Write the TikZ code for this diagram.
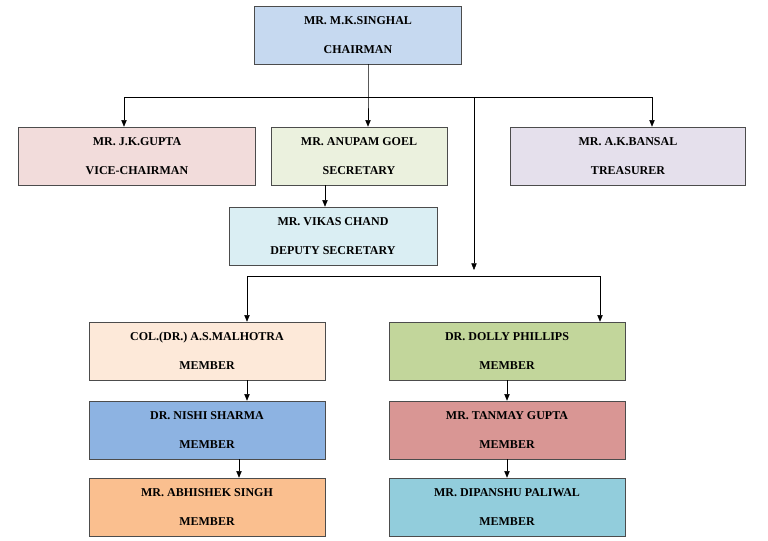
\documentclass[tikz,border=0pt]{standalone}
\usepackage{fontspec}
\setmainfont{Liberation Serif}
\usetikzlibrary{arrows.meta, positioning, calc}
\definecolor{c_chair}{RGB}{198, 217, 240}
\definecolor{c_vice}{RGB}{242, 220, 219}
\definecolor{c_secr}{RGB}{235, 241, 222}
\definecolor{c_treas}{RGB}{229, 224, 236}
\definecolor{c_dep}{RGB}{218, 238, 243}
\definecolor{c_malh}{RGB}{253, 233, 217}
\definecolor{c_dolly}{RGB}{194, 214, 155}
\definecolor{c_nishi}{RGB}{141, 179, 226}
\definecolor{c_tanm}{RGB}{217, 150, 148}
\definecolor{c_abhi}{RGB}{250, 191, 143}
\definecolor{c_dipa}{RGB}{146, 205, 220}
\begin{document}
\begin{tikzpicture}[x=0.75pt, y=-0.75pt,
        box/.style={rectangle, draw=black!70, minimum height=43.5pt,
                    font=\fontsize{9}{21.5}\selectfont\bfseries, align=center,
                    inner sep=0pt},
        arr/.style={-{Triangle[length=5pt, width=4pt]}, thin},
        ln/.style={thin},
      ]
        \useasboundingbox (0,0) rectangle (768,540);

        \node[box, fill=c_chair, minimum width=155pt] (chair)
          at (358, 35) {MR. M.K.SINGHAL\\CHAIRMAN};
        \node[box, fill=c_vice, minimum width=178pt] (vice)
          at (137, 156) {MR. J.K.GUPTA\\VICE-CHAIRMAN};
        \node[box, fill=c_secr, minimum width=132pt] (secr)
          at (359, 156) {MR. ANUPAM GOEL\\SECRETARY};
        \node[box, fill=c_treas, minimum width=176pt] (treas)
          at (628, 156) {MR. A.K.BANSAL\\TREASURER};
        \node[box, fill=c_dep, minimum width=156pt] (dep)
          at (333, 236) {MR. VIKAS CHAND\\DEPUTY SECRETARY};

        \node[box, fill=c_malh, minimum width=177pt] (malh)
          at (207, 351) {COL.(DR.) A.S.MALHOTRA\\MEMBER};
        \node[box, fill=c_nishi, minimum width=177pt] (nishi)
          at (207, 430) {DR. NISHI SHARMA\\MEMBER};
        \node[box, fill=c_abhi, minimum width=177pt] (abhi)
          at (207, 507) {MR. ABHISHEK SINGH\\MEMBER};
        \node[box, fill=c_dolly, minimum width=177pt] (dolly)
          at (507, 351) {DR. DOLLY PHILLIPS\\MEMBER};
        \node[box, fill=c_tanm, minimum width=177pt] (tanm)
          at (507, 430) {MR. TANMAY GUPTA\\MEMBER};
        \node[box, fill=c_dipa, minimum width=177pt] (dipa)
          at (507, 507) {MR. DIPANSHU PALIWAL\\MEMBER};

        % top level bus
        \coordinate (bus) at (368, 97);
        \coordinate (busl) at (124, 97);
        \coordinate (busr) at (652, 97);
        \coordinate (busm) at (474, 97);
        \coordinate (low) at (474, 276);
        \coordinate (lowl) at (247, 276);
        \coordinate (lowr) at (600, 276);

        \draw[arr] (chair.south -| bus) -- (bus) -- (secr.north -| bus);
        \draw[ln] (busl) -- (busr);
        \draw[arr] (busl) -- (vice.north -| busl);
        \draw[arr] (busr) -- (treas.north -| busr);
        \draw[arr] (busm) -- ($(low)+(0,-6)$);
        \draw[ln] (lowl) -- (lowr);
        \draw[arr] (lowl) -- (malh.north -| lowl);
        \draw[arr] (lowr) -- (dolly.north -| lowr);

        \draw[arr] (secr.south -| dep.north) ++(-8,0) coordinate (s1) -- (dep.north -| s1);
        \draw[arr] (malh.south -| lowl) -- (nishi.north -| lowl);
        \draw[arr] ($(nishi.south)+(32,0)$) -- ($(abhi.north)+(32,0)$);
        \draw[arr] (dolly) ++(0,29) -- (tanm.north);
        \draw[arr] (tanm.south) -- (dipa.north);
      \end{tikzpicture}
\end{document}
